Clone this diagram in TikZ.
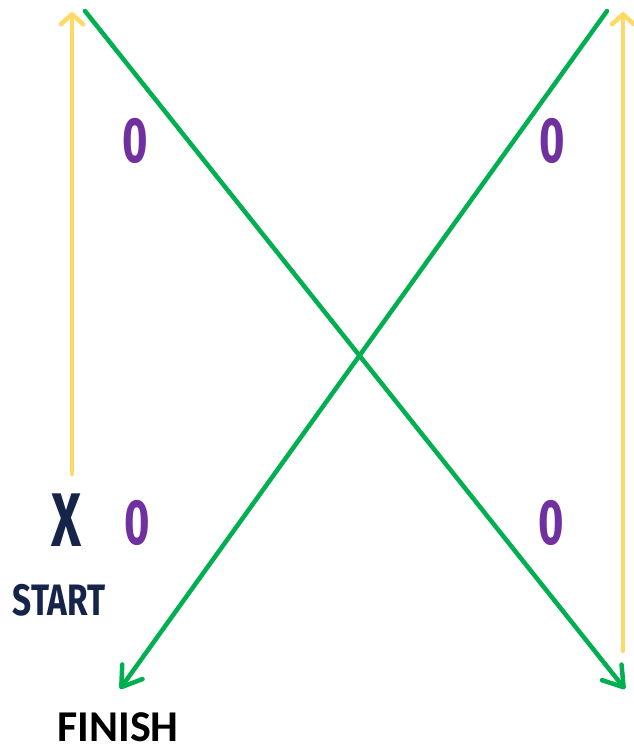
\documentclass[tikz,border=0pt]{standalone}
\usepackage{fontspec}
\setmainfont{Carlito}
\newfontfamily\condfont{Fira Sans}[FakeStretch=0.68]
\newfontfamily\widefont{Fira Sans}[FakeStretch=0.76]
\usetikzlibrary{arrows.meta}
\definecolor{gold}{HTML}{FFD966}
\definecolor{leaf}{HTML}{00B050}
\definecolor{plum}{HTML}{7030A0}
\definecolor{navy}{HTML}{172449}

\begin{document}
\begin{tikzpicture}[x=1pt, y=-1pt,
  up/.style={gold, line width=4.5pt, line cap=round,
             -{Straight Barb[length=10pt, width=22pt, round]}},
  cross/.style={leaf, line width=4.5pt, line cap=round,
                -{Straight Barb[length=19pt, width=25pt, round]}},
  zero/.style={plum, font=\condfont\bfseries\fontsize{64}{64}\selectfont,
               inner sep=0pt, anchor=base},
  lbl/.style={text=navy, inner sep=0pt, anchor=base}]
\useasboundingbox (0,0) rectangle (633,750);
% arrows
\coordinate (ly0) at (72,474);
\coordinate (ly1) at (72,12);
\coordinate (ry0) at (623,651);
\coordinate (ry1) at (623,12);
\coordinate (ga0) at (85,11);
\coordinate (ga1) at (625,689);
\coordinate (gb0) at (607,11);
\coordinate (gb1) at (120,689);
\draw[up] (ly0) -- (ly1);
\draw[up] (ry0) -- (ry1);
\draw[cross] (ga0) -- (ga1);
\draw[cross] (gb0) -- (gb1);
% board
\node[zero] (ztl) at (135,162) {0};
\node[zero] (ztr) at (552,162) {0};
\node[zero] (zbl) at (137,544) {0};
\node[zero] (zbr) at (551,544) {0};
\node[lbl, font=\condfont\bfseries\fontsize{76}{76}\selectfont] (x) at (67,546) {X};
\node[lbl, font=\widefont\bfseries\fontsize{44}{44}\selectfont] (start) at (59,615) {START};
\node[font=\bfseries\fontsize{44}{44}\selectfont, inner sep=0pt, anchor=base] (finish) at (118,741) {FINISH};
\end{tikzpicture}
\end{document}
